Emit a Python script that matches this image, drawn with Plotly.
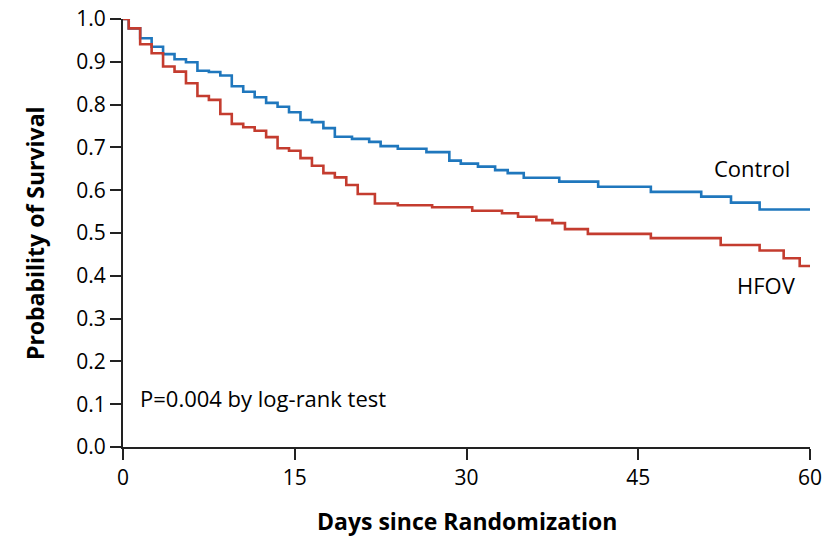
import plotly.graph_objects as go

control_days = [0, 0.5, 1.5, 2.5, 3.5, 4.5, 5.5, 6.5, 7.5, 8.5, 9.5, 10.5, 11.5, 12.5, 13.5, 14.5,
                15.5, 16.5, 17.5, 18.5, 20, 21.5, 22.5, 24, 26.5, 28.5, 29.5, 31, 32.5, 33.6, 35,
                38.1, 41.5, 46.1, 50.5, 53.1, 55.6, 60]
control_surv = [1.0, 0.978, 0.955, 0.935, 0.918, 0.906, 0.899, 0.879, 0.876, 0.868, 0.843, 0.830,
                0.817, 0.804, 0.795, 0.782, 0.764, 0.759, 0.745, 0.725, 0.720, 0.713, 0.703, 0.697,
                0.689, 0.669, 0.662, 0.655, 0.647, 0.640, 0.629, 0.620, 0.608, 0.596, 0.585, 0.571,
                0.555, 0.555]

hfov_days = [0, 0.5, 1.5, 2.5, 3.5, 4.5, 5.5, 6.5, 7.5, 8.5, 9.5, 10.5, 11.5, 12.5, 13.5, 14.5,
             15.5, 16.5, 17.5, 18.5, 19.5, 20.5, 22, 24, 27, 30.5, 33.1, 34.5, 36.1, 37.5, 38.6,
             40.6, 46.1, 52.2, 55.6, 57.7, 59.1, 60]
hfov_surv = [1.0, 0.978, 0.941, 0.920, 0.889, 0.877, 0.850, 0.820, 0.811, 0.778, 0.755, 0.747,
             0.739, 0.724, 0.698, 0.692, 0.675, 0.657, 0.640, 0.630, 0.612, 0.591, 0.569, 0.565,
             0.560, 0.552, 0.546, 0.538, 0.530, 0.523, 0.509, 0.498, 0.488, 0.472, 0.459, 0.441,
             0.423, 0.423]

x_ticks = [0, 15, 30, 45, 60]
y_ticks = [0.0, 0.1, 0.2, 0.3, 0.4, 0.5, 0.6, 0.7, 0.8, 0.9, 1.0]

FONT = "Open Sans"
BLUE = "#1f77bd"
RED = "#c43c2f"

fig = go.Figure()
fig.add_trace(go.Scatter(x=control_days, y=control_surv, mode="lines", line_shape="hv",
                         line=dict(color=BLUE, width=2.6), cliponaxis=False, name="Control"))
fig.add_trace(go.Scatter(x=hfov_days, y=hfov_surv, mode="lines", line_shape="hv",
                         line=dict(color=RED, width=2.6), cliponaxis=False, name="HFOV"))

fig.add_annotation(x=54.9, y=0.652, text="Control", showarrow=False,
                   font=dict(family=FONT, size=22, color="black"))
fig.add_annotation(x=56.2, y=0.378, text="HFOV", showarrow=False,
                   font=dict(family=FONT, size=22, color="black"))
fig.add_annotation(x=1.35, y=0.114, text="P=0.004 by log-rank test", showarrow=False,
                   xanchor="left", font=dict(family=FONT, size=22, color="black"))

# axis titles
fig.add_annotation(xref="paper", yref="paper", x=0.5007, y=-0.173, xanchor="center", yanchor="middle",
                   text="<b>Days since Randomization</b>",
                   showarrow=False, font=dict(family=FONT, size=23, color="black"))
fig.add_annotation(xref="paper", yref="paper", x=-0.128, y=0.5, xanchor="center", yanchor="middle",
                   text="<b>Probability of Survival</b>",
                   textangle=-90, showarrow=False, font=dict(family=FONT, size=23, color="black"))

fig.update_layout(
    width=827, height=536,
    margin=dict(l=123, r=17, t=19, b=89),
    paper_bgcolor="white", plot_bgcolor="white",
    showlegend=False,
    font=dict(family=FONT, color="black"),
)
fig.update_xaxes(range=[0, 60], tickvals=x_ticks, ticks="outside", ticklen=11, tickwidth=2,
                 tickcolor="#222", showline=True, linecolor="#222", linewidth=2, showgrid=False,
                 zeroline=False, tickfont=dict(family=FONT, size=21), automargin=False)
fig.update_yaxes(range=[0, 1.0], tickvals=y_ticks, tickformat=".1f", ticks="outside", ticklen=11,
                 tickwidth=2, tickcolor="#222", showline=True, linecolor="#222", linewidth=2,
                 showgrid=False, zeroline=False, tickfont=dict(family=FONT, size=21), automargin=False)

fig.write_html("out.html")
